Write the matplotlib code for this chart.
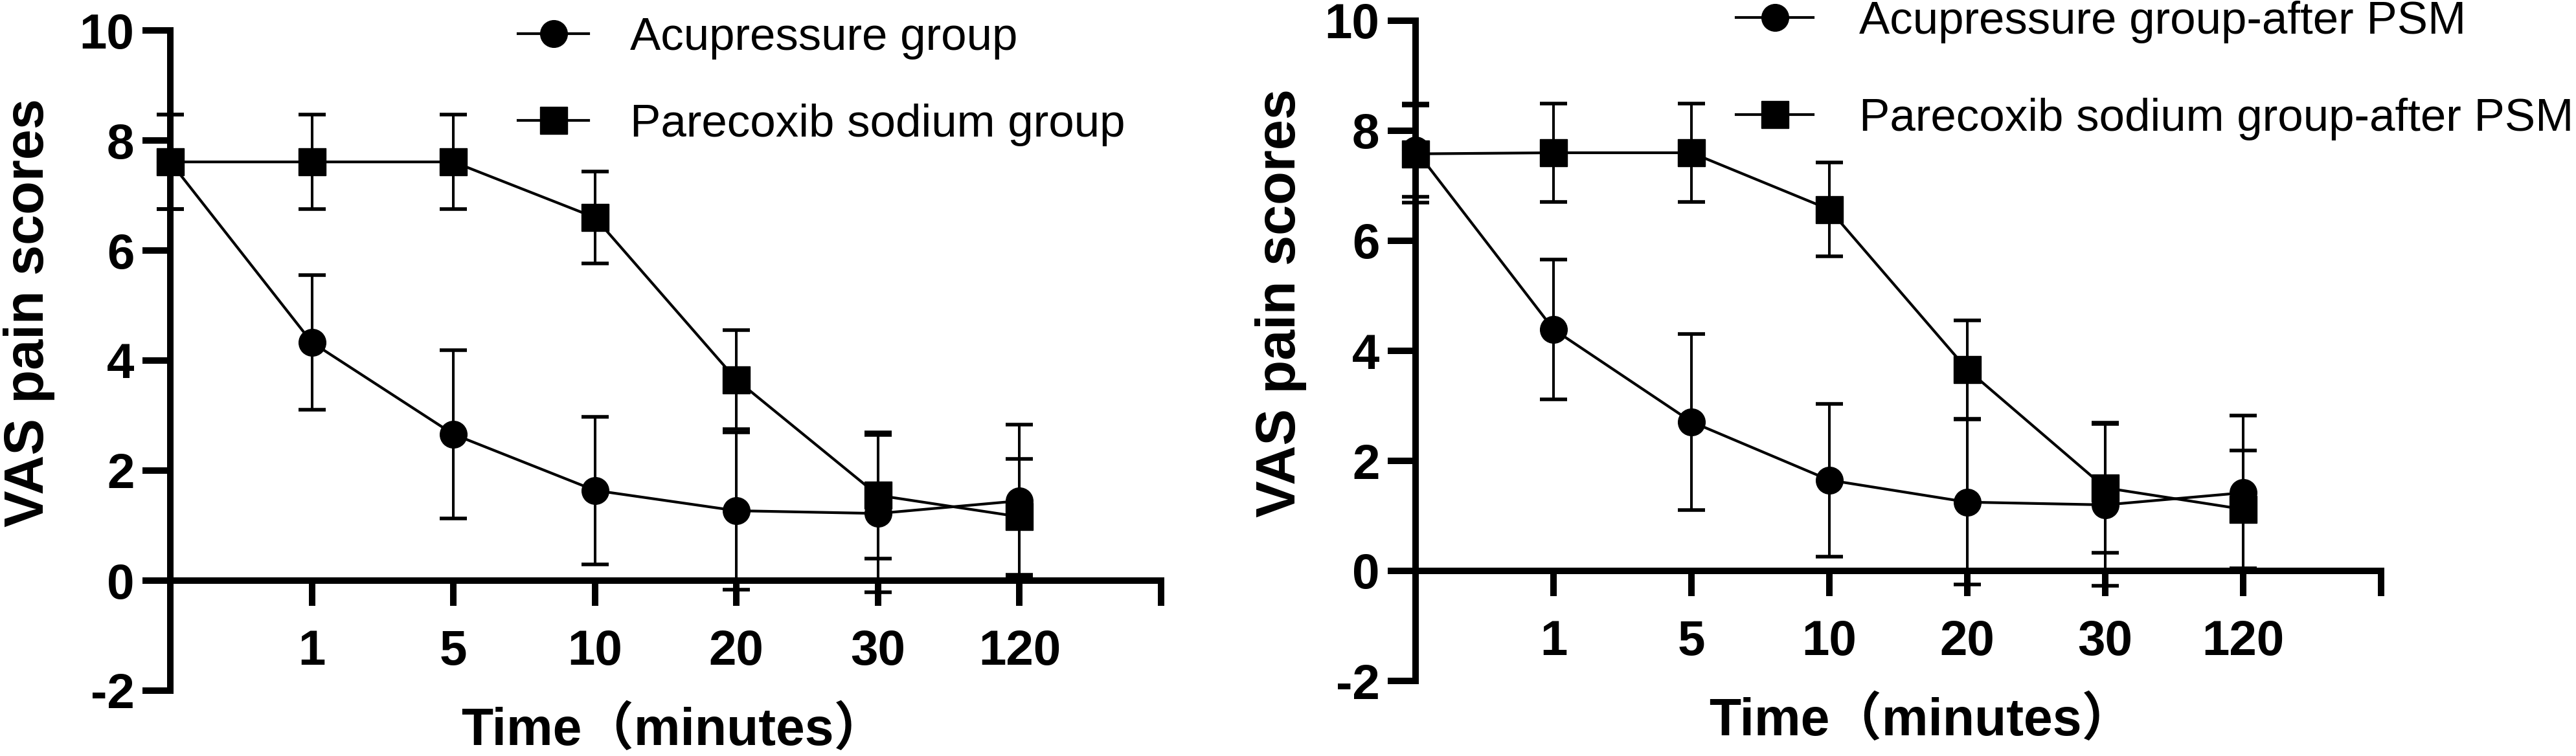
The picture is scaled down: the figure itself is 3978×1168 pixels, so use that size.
import matplotlib
matplotlib.use("Agg")
import matplotlib.pyplot as plt

plt.rcParams["font.family"] = ["Liberation Sans", "Noto Sans CJK SC", "DejaVu Sans"]
plt.rcParams["axes.unicode_minus"] = False

# x positions are categorical: baseline, then 1, 5, 10, 20, 30, 120 minutes
positions = [0, 1, 2, 3, 4, 5, 6]
tick_pos = [0, 1, 2, 3, 4, 5, 6, 7]
tick_labels = ["", "1", "5", "10", "20", "30", "120", ""]
y_ticks = [-2, 0, 2, 4, 6, 8, 10]
y_tick_labels = ["-2", "0", "2", "4", "6", "8", "10"]

# left panel: before PSM
acu_mean = [7.61, 4.33, 2.66, 1.64, 1.27, 1.22, 1.45]
acu_sd = [0.86, 1.22, 1.53, 1.34, 1.43, 1.43, 1.38]
par_mean = [7.61, 7.61, 7.61, 6.60, 3.65, 1.55, 1.16]
par_sd = [0.86, 0.86, 0.86, 0.84, 0.90, 1.15, 1.05]

# right panel: after PSM
acu_psm_mean = [7.65, 4.39, 2.71, 1.65, 1.25, 1.20, 1.42]
acu_psm_sd = [0.85, 1.27, 1.60, 1.39, 1.50, 1.47, 1.40]
par_psm_mean = [7.58, 7.60, 7.60, 6.57, 3.66, 1.51, 1.12]
par_psm_sd = [0.88, 0.89, 0.89, 0.85, 0.89, 1.18, 1.07]

W, H = 3978, 1168
fig = plt.figure(figsize=(W / 100, H / 100), dpi=100)

# axes rectangles in pixels
ax1 = fig.add_axes([263 / W, 1 - 1067 / H, 1530 / W, 1020 / H])
ax2 = fig.add_axes([2186 / W, 1 - 1052 / H, 1491 / W, 1020 / H])


def draw(ax, m1, s1, m2, s2, lab1, lab2, leg_xy, lspace, hlen, htpad,
         ylab_x, xlab_x):
    for m, s, mk, lab in [(m1, s1, "o", lab1), (m2, s2, "s", lab2)]:
        ax.errorbar(positions, m, yerr=s, fmt="none", ecolor="black",
                    elinewidth=2.9, capsize=14.8, capthick=4,
                    zorder=3, clip_on=False)
        ax.plot(positions, m, color="black", lw=3, marker=mk, ms=30,
                mfc="black", mec="black", label=lab, zorder=4, clip_on=False)

    ax.set_xlim(0, 7)
    ax.set_ylim(-2, 10)
    ax.spines["top"].set_visible(False)
    ax.spines["right"].set_visible(False)
    ax.spines["bottom"].set_position(("data", 0))
    for sp in ("left", "bottom"):
        ax.spines[sp].set_linewidth(7.2)
    ax.set_xticks(tick_pos)
    ax.set_xticklabels(tick_labels, fontsize=55, fontweight="bold")
    ax.set_yticks(y_ticks)
    ax.set_yticklabels(y_tick_labels, fontsize=55, fontweight="bold")
    ax.tick_params(axis="x", length=28, width=7.2, pad=26)
    ax.tick_params(axis="y", length=31, width=7.2, pad=9)

    ax.set_ylabel("VAS pain scores", fontsize=61, fontweight="bold")
    ax.yaxis.set_label_coords(ylab_x, 0.5725)
    ax.yaxis.label.set_verticalalignment("center")
    ax.set_xlabel("Time（minutes）", fontsize=58, fontweight="bold")
    ax.xaxis.set_label_coords(xlab_x, -0.061)
    ax.xaxis.label.set_verticalalignment("center")

    ax.legend(loc="upper left", bbox_to_anchor=leg_xy,
              bbox_transform=fig.transFigure, frameon=False, fontsize=51,
              borderpad=0, borderaxespad=0, handlelength=hlen,
              handletextpad=htpad, labelspacing=lspace)


draw(ax1, acu_mean, acu_sd, par_mean, par_sd,
     "Acupressure group", "Parecoxib sodium group",
     (800 / W, 1 - 26 / H), 0.96, 1.54, 0.9, -0.1425, 0.508)
draw(ax2, acu_psm_mean, acu_psm_sd, par_psm_mean, par_psm_sd,
     "Acupressure group-after PSM", "Parecoxib sodium group-after PSM",
     (2681 / W, 1 - 1 / H), 1.18, 1.68, 1.0, -0.1395, 0.524)

fig.savefig("out.png", dpi=100, facecolor="white")
